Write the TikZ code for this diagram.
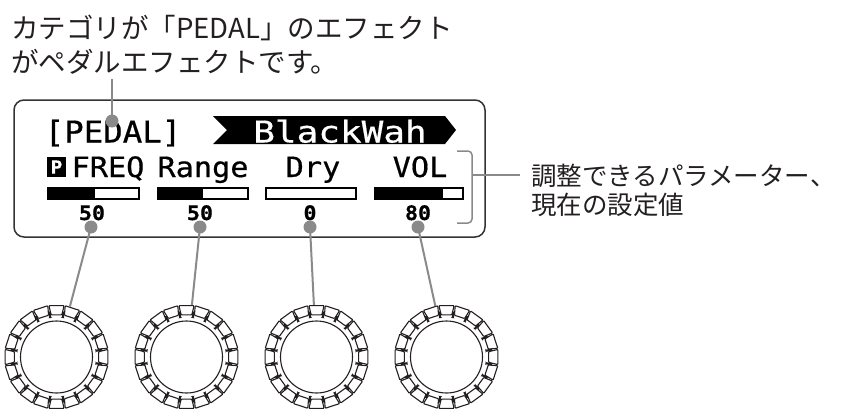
\documentclass[tikz,border=0pt]{standalone}
\usepackage{fontspec}
\usepackage{xcolor}
\usetikzlibrary{positioning,calc}
\newfontfamily\jpfont{Noto Sans CJK JP}
\newfontfamily\lcdfont[FakeStretch=1.08,FakeBold=0.6]{DejaVu Sans Mono}
\newfontfamily\lcdwide[FakeStretch=1.2,FakeBold=0.6]{DejaVu Sans Mono}
\definecolor{fxInk}{HTML}{231F20}
\definecolor{fxFrame}{HTML}{333333}
\definecolor{fxLead}{HTML}{8A8A8A}
\definecolor{fxWhite}{HTML}{FFFFFF}
\tikzset{
  fx-lcd/.style={
    draw=fxFrame, line width=1.5pt, rounded corners=10pt,
    minimum width=471pt, minimum height=137pt, inner sep=0pt
  },
  fx-big/.style={font=\lcdfont\fontsize{30}{30}\selectfont, inner sep=0pt,
    anchor=base, text=black},
  fx-mid/.style={font=\lcdfont\fontsize{28}{28}\selectfont, inner sep=0pt,
    anchor=base, text=black},
  fx-val/.style={font=\lcdfont\bfseries\fontsize{20}{20}\selectfont,
    inner sep=0pt, anchor=base, text=black},
  fx-bar/.style={draw=black, line width=2pt},
  fx-dot/.style={circle, fill=fxLead, minimum size=13pt, inner sep=0pt},
  fx-lead/.style={draw=fxLead, line width=2pt},
  fx-brk/.style={draw=fxLead, line width=1.5pt},
  fx-knob/.style={circle, minimum size=104pt, inner sep=0pt},
  fx-dial/.style={draw=fxInk, line width=1.1pt},
  fx-jp/.style={font=\jpfont\fontsize{27.5}{33}\selectfont, text=fxInk,
    inner sep=0pt, anchor=base west},
  fx-note/.style={fx-jp, font=\jpfont\fontsize{25.5}{30}\selectfont}
}
% one bar: start, end of fill, end
\newcommand{\lcdbar}[3]{%
  \fill (#1,188) rectangle (#2,199);
  \draw[fx-bar] (#1,188) rectangle (#3,199);}
% knurled dial round a node
\newcommand{\dialring}[1]{%
  \begin{scope}[shift={(#1)}]
    \draw[fx-dial] (0,0) circle (36);
    \foreach \a in {0,18,...,342}{
      \draw[fx-dial, rounded corners=0.8pt]
        (\a-7.2:42.5) -- (\a-8.4:52) -- (\a+8.4:52) -- (\a+7.2:42.5) -- cycle;
      \draw[fx-dial, rounded corners=1pt]
        (\a+8.2:46) -- (\a+8.2:40) -- (\a+9.8:40) -- (\a+9.8:46);
    }
  \end{scope}}

\begin{document}
\begin{tikzpicture}[x=1pt, y=-1pt]
\useasboundingbox (0,0) rectangle (843,410);

% notes
\node[fx-jp] (head1) at (11,38) {カテゴリが「PEDAL」のエフェクト};
\node[fx-jp] (head2) at (11,72) {がペダルエフェクトです。};
\node[fx-note] (note1) at (531,185) {調整できるパラメーター、};
\node[fx-note] (note2) at (531,214) {現在の設定値};

% display
\node[fx-lcd] (lcd) at (249.5,168.5) {};
\node[fx-big] (cat) at (113,142.5) {[PEDAL]};
\fill[black] (213,116) -- (445,116) -- (456,130) -- (445,144)
  -- (213,144) -- (227,130) -- cycle;
\node[fx-big, font=\lcdwide\fontsize{30}{30}\selectfont, text=fxWhite]
  (fxname) at (340,142.5) {BlackWah};

\node[fill=black, text=fxWhite, minimum width=19pt, minimum height=20pt,
  inner sep=0pt, font=\lcdfont\bfseries\fontsize{18}{18}\selectfont]
  (pkey) at (56.5,167) {P};
\node[fx-mid] (p1) at (108,177) {FREQ};
\node[fx-mid] (p2) at (203,177) {Range};
\node[fx-mid] (p3) at (313,177) {Dry};
\node[fx-mid] (p4) at (420,177) {VOL};

\lcdbar{48}{95}{139}
\lcdbar{158}{203}{248}
\lcdbar{266}{266}{356}
\lcdbar{375}{443}{463}

\node[fx-val] (v1) at (92,220) {50};
\node[fx-val] (v2) at (200,220) {50};
\node[fx-val] (v3) at (310,220) {0};
\node[fx-val] (v4) at (418,220) {80};

% dots and dials
\node[fx-dot] (d0) at (112,121) {};
\node[fx-dot] (d1) at (91,227) {};
\node[fx-dot] (d2) at (200,227) {};
\node[fx-dot] (d3) at (310,227) {};
\node[fx-dot] (d4) at (418,227) {};

\node[fx-knob] (k1) at (56.5,357) {};
\node[fx-knob] (k2) at (186.5,357) {};
\node[fx-knob] (k3) at (316.5,357) {};
\node[fx-knob] (k4) at (446.5,357) {};
\dialring{k1}
\dialring{k2}
\dialring{k3}
\dialring{k4}

% leaders
\coordinate (headtip) at (112,79);
\draw[fx-lead, line width=1.8pt] (headtip) -- (d0.center);
\draw[fx-lead] (d1.center) -- (k1);
\draw[fx-lead] (d2.center) -- (k2);
\draw[fx-lead] (d3.center) -- (k3);
\draw[fx-lead] (d4.center) -- (k4);

\draw[fx-brk, rounded corners=4pt] (457,151) -- (472,151) -- (472,223) -- (457,223);
\coordinate (brk) at (472,175);
\coordinate (notetip) at (520,175);
\draw[fx-brk] (brk) -- (notetip);
\end{tikzpicture}
\end{document}
